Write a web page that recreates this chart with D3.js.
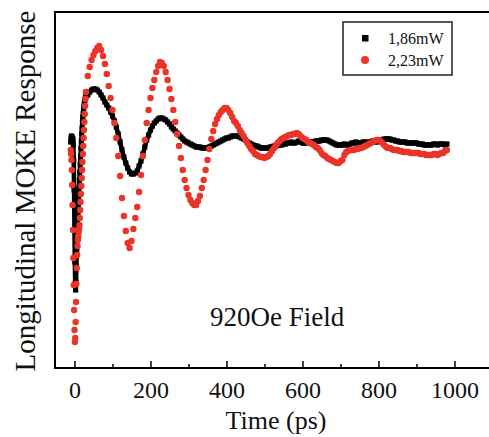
<!doctype html>
<html>
<head>
    <script src="https://d3js.org/d3.v7.min.js"></script>
    <style>
        body { margin: 0; background: #fff; }
        text { font-family: "Liberation Serif", "Times New Roman", serif; fill: #111; }
    </style>
</head>
<body>

    <svg width="489" height="437"></svg>

    <script>
        // time grid (ps): 1 ps steps around zero delay, 5 ps steps afterwards
        var timesFine = d3.range(-10, 31, 1);
        var timesMain = d3.range(35, 981, 5);

        // 1.86mW (arbitrary units)
        var blackFine = [3,7,9,5,8,4,6,0,-15,-45,
            -85,-117,-138,-145,-137,-121,-105,-91,-79,-69,
            -60,-51,-43,-35,-27,-19,-11,-3,4,11,
            17,23,28,32,36,39,42,44,46,48,
            49];
        var blackMain = [50,53,55,56,56,55,53,50,47,43,
            40,37,33,29,24,18,11,3,-5,-12,
            -18,-23,-27,-29,-29,-28,-26,-21,-16,-9,
            -2,5,10,15,19,22,24,26,27,27,
            26,25,23,21,18,16,14,12,10,8,
            6,4,3,2,1,0,-1,-2,-2,-2,
            -3,-3,-3,-3,-2,-1,0,1,2,3,
            4,5,6,7,7,8,9,9,9,9,
            8,7,6,5,3,2,1,0,-1,-1,
            -2,-3,-3,-3,-3,-3,-2,-2,-1,-1,
            0,0,0,1,1,2,2,3,2,2,
            3,4,3,2,2,2,3,3,3,3,
            4,4,4,5,5,5,5,4,3,2,
            1,0,0,0,0,1,0,0,1,2,
            2,3,2,2,2,3,3,2,3,3,
            4,3,3,4,5,5,6,6,6,6,
            5,5,4,4,3,3,3,3,2,2,
            2,2,2,2,1,1,1,0,0,0,
            0,0,1,1,0,1,1,1,0,1];

        // 2.23mW (arbitrary units)
        var redFine = [-5,-9,-15,-25,-40,-60,-85,-113,-140,-165,
            -185,-197,-193,-177,-157,-139,-123,-110,-101,-95,
            -91,-87,-84,-80,-73,-65,-57,-49,-41,-33,
            -25,-17,-9,-1,7,15,23,31,39,46,
            53];
        var redMain = [69,78,85,90,94,97,99,95,89,81,
            71,59,47,35,22,7,-11,-31,-53,-71,
            -86,-98,-103,-96,-84,-73,-62,-47,-30,-11,
            5,22,35,47,57,65,73,79,83,82,
            79,73,65,56,46,35,23,11,-1,-13,
            -25,-35,-43,-50,-55,-58,-60,-60,-56,-51,
            -43,-35,-25,-15,-4,6,14,21,26,30,
            33,35,37,37,35,32,28,24,22,19,
            15,12,9,5,2,-1,-4,-6,-9,-10,
            -11,-12,-12,-13,-12,-11,-9,-6,-3,0,
            2,4,6,7,8,9,10,10,11,11,
            12,11,9,7,6,5,3,2,1,0,
            -2,-3,-5,-8,-10,-11,-13,-14,-15,-16,
            -17,-18,-18,-16,-15,-10,-7,-6,-5,-5,
            -5,-4,-4,-3,-3,-2,-1,0,1,2,
            3,4,5,5,4,2,0,-2,-3,-3,
            -4,-5,-5,-5,-6,-6,-7,-7,-7,-7,
            -8,-8,-8,-8,-8,-9,-9,-9,-10,-10,
            -10,-10,-9,-9,-10,-9,-8,-8,-6,-5];

        var majorTicks = [0, 200, 400, 600, 800, 1000];
        var minorTicks = [100, 300, 500, 700, 900];
        var seriesNames = ["1,86mW", "2,23mW"];

        var times = timesFine.concat(timesMain);
        var black = times.map((t, i) => ({t: t, v: blackFine.concat(blackMain)[i]}));
        var red = times.map((t, i) => ({t: t, v: redFine.concat(redMain)[i]}));

        var svg = d3.select("svg");

        var x = d3.scaleLinear().domain([-51.3, 1100]).range([55, 492.5]);
        var y = d3.scaleLinear().domain([-223, 133]).range([368, 12]);

        // 1.86mW: squares packed so tight they read as a thick trace
        var line = d3.line().x(d => x(d.t)).y(d => y(d.v));
        svg.append("path")
            .datum(black)
            .attr("d", line)
            .attr("fill", "none")
            .attr("stroke", "#000")
            .attr("stroke-width", 4.6)
            .attr("stroke-linejoin", "round");

        svg.append("g").selectAll("rect")
            .data(black)
            .enter().append("rect")
            .attr("x", d => x(d.t) - 2.6)
            .attr("y", d => y(d.v) - 2.6)
            .attr("width", 5.2)
            .attr("height", 5.2)
            .attr("fill", "#000");

        svg.append("g").selectAll("circle")
            .data(red)
            .enter().append("circle")
            .attr("cx", d => x(d.t))
            .attr("cy", d => y(d.v))
            .attr("r", 3.2)
            .attr("fill", "#ec3328");

        // frame (right side is cut off in the original)
        svg.append("rect")
            .attr("x", 55).attr("y", 12)
            .attr("width", 460).attr("height", 356)
            .attr("fill", "none")
            .attr("stroke", "#000")
            .attr("stroke-width", 2);

        // x axis: ticks point inward
        var xAxis = svg.append("g")
            .attr("transform", "translate(0,368)")
            .call(d3.axisBottom(x).tickValues(majorTicks).tickSize(-7).tickPadding(13)
                .tickFormat(d3.format("d")));
        xAxis.select(".domain").remove();
        xAxis.selectAll("line").attr("stroke-width", 1.5);
        xAxis.selectAll("text")
            .attr("font-size", 24)
            .attr("font-family", "Liberation Serif, serif")
            .attr("fill", "#111");

        var xMinor = svg.append("g")
            .attr("transform", "translate(0,368)")
            .call(d3.axisBottom(x).tickValues(minorTicks).tickSize(-4).tickFormat(""));
        xMinor.select(".domain").remove();
        xMinor.selectAll("line").attr("stroke-width", 1.5);

        // labels
        svg.append("text")
            .attr("x", 276)
            .attr("y", 429)
            .attr("text-anchor", "middle")
            .attr("font-size", 26)
            .text("Time (ps)");

        svg.append("text")
            .attr("transform", "translate(35,191) rotate(-90)")
            .attr("text-anchor", "middle")
            .attr("font-size", 29)
            .text("Longitudinal MOKE Response");

        svg.append("text")
            .attr("x", 210)
            .attr("y", 326)
            .attr("font-size", 27)
            .text("920Oe Field");

        // legend
        var legend = svg.append("g");
        legend.append("rect")
            .attr("x", 343).attr("y", 22)
            .attr("width", 109).attr("height", 53)
            .attr("fill", "#fff")
            .attr("stroke", "#222")
            .attr("stroke-width", 1.5);

        legend.append("rect")
            .attr("x", 362).attr("y", 35)
            .attr("width", 6.5).attr("height", 6.5)
            .attr("fill", "#000");
        legend.append("circle")
            .attr("cx", 365).attr("cy", 60)
            .attr("r", 4)
            .attr("fill", "#ec3328");

        legend.selectAll("text.lab")
            .data(seriesNames)
            .enter().append("text")
            .attr("class", "lab")
            .attr("x", 388)
            .attr("y", (d, i) => 44 + i * 22)
            .attr("font-size", 16)
            .text(d => d);
    </script>
</body>
</html>
